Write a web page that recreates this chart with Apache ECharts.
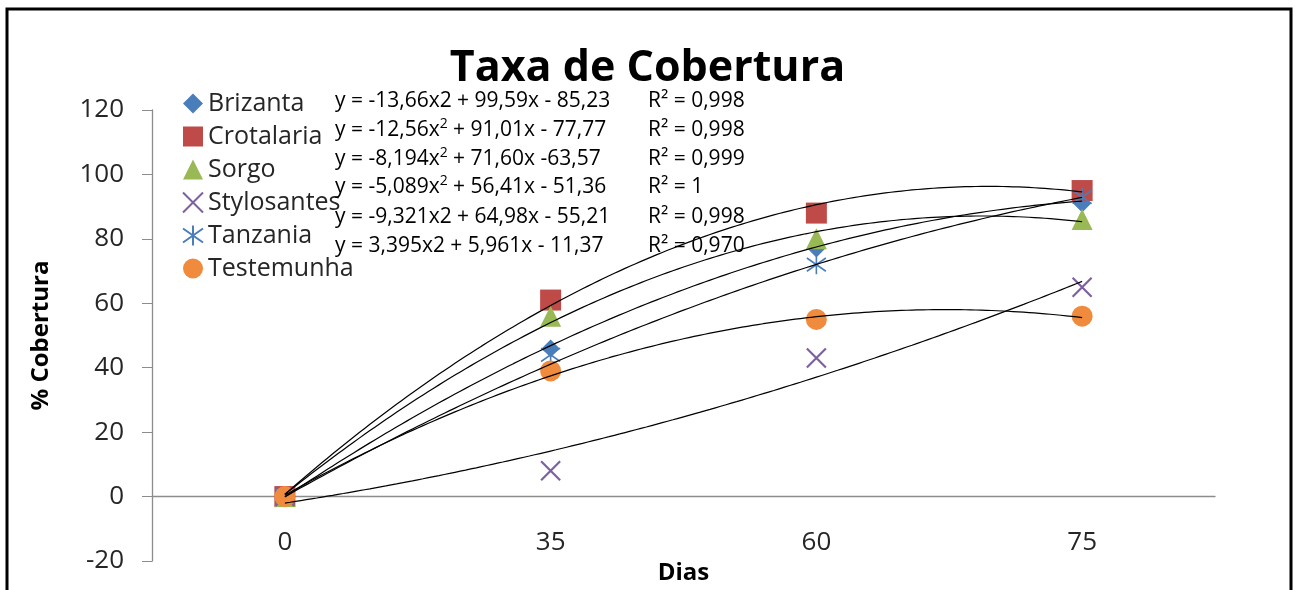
<!DOCTYPE html>
<html>
<head>
<meta charset="utf-8">
<script src="https://cdn.jsdelivr.net/npm/echarts@6/dist/echarts.min.js"></script>
<style>
  html, body { margin: 0; padding: 0; background: #fff; }
  #chart { width: 1295px; height: 590px; }
</style>
</head>
<body>
<div id="chart"></div>
<script>
  // dados
  var dias = ['0', '35', '60', '75'];
  var nomes = ['Brizanta', 'Crotalaria', 'Sorgo', 'Stylosantes', 'Tanzania', 'Testemunha'];

  var brizanta    = [0, 46, 77, 91];
  var crotalaria  = [0, 61, 88, 95];
  var sorgo       = [0, 56, 80, 86];
  var stylosantes = [0, 8, 43, 65];
  var tanzania    = [0, 44, 72, 93];
  var testemunha  = [0, 39, 55, 56];

  // coeficientes das linhas de tendencia (polinomial 2a ordem, x = 1..4)
  var trendA = [-8.194, -13.66, -12.56, 3.395, -5.089, -9.321];
  var trendB = [71.60, 99.59, 91.01, 5.961, 56.41, 64.98];
  var trendC = [-63.57, -85.23, -77.77, -11.37, -51.36, -55.21];

  // textos das equacoes como aparecem no grafico
  var equacoes = [
    'y = -13,66x2 + 99,59x - 85,23',
    'y = -12,56x{sup|2} + 91,01x - 77,77',
    'y = -8,194x{sup|2} + 71,60x -63,57',
    'y = -5,089x{sup|2} + 56,41x - 51,36',
    'y = -9,321x2 + 64,98x - 55,21',
    'y = 3,395x2 + 5,961x - 11,37'
  ];
  var r2 = ['R² = 0,998', 'R² = 0,998', 'R² = 0,999', 'R² = 1', 'R² = 0,998', 'R² = 0,970'];

  var valores = [brizanta, crotalaria, sorgo, stylosantes, tanzania, testemunha];
  var cores = ['#4a7ebb', '#be4b48', '#98b954', '#7d60a0', '#4a7ebb', '#f08a3c'];
  var simbolos = [
    'diamond',
    'rect',
    'triangle',
    'path://M0,0L10,10M10,0L0,10',
    'path://M5,0L5,10M0,1.5L10,8.5M10,1.5L0,8.5',
    'circle'
  ];
  var tamanhos = [18, 21, 21, 19, 19, 21];

  var fonte = '"Open Sans", "DejaVu Sans", sans-serif';

  var chart = echarts.init(document.getElementById('chart'));

  var series = [];
  nomes.forEach(function (n, i) {
    var linha = i === 3 || i === 4;
    series.push({
      name: n,
      type: 'scatter',
      xAxisIndex: 0,
      data: valores[i],
      symbol: simbolos[i],
      symbolSize: tamanhos[i],
      itemStyle: linha
        ? { color: 'rgba(0,0,0,0)', borderColor: cores[i], borderWidth: i === 3 ? 2.2 : 1.6, opacity: 1 }
        : { color: cores[i], opacity: 1 },
      z: 2
    });
  });
  // linhas de tendencia
  nomes.forEach(function (n, i) {
    var pts = [];
    for (var x = 1; x <= 4.0001; x += 0.02) {
      pts.push([x, trendA[i] * x * x + trendB[i] * x + trendC[i]]);
    }
    series.push({
      name: 'tend_' + n,
      type: 'line',
      xAxisIndex: 1,
      data: pts,
      showSymbol: false,
      symbol: 'none',
      lineStyle: { color: '#000', width: 1.2 },
      silent: true,
      z: 5
    });
  });

  var graficos = [{
    type: 'rect',
    shape: { x: 7, y: 9, width: 1284, height: 620 },
    style: { fill: 'none', stroke: '#000', lineWidth: 3 },
    silent: true
  }];
  var ys = [101, 130, 159, 187, 217, 246];
  equacoes.forEach(function (t, i) {
    graficos.push({
      type: 'text',
      x: 335, y: ys[i],
      style: {
        text: t,
        font: '21px ' + fonte,
        fill: '#000',
        verticalAlign: 'middle',
        rich: { sup: { fontSize: 14, verticalAlign: 'top', padding: [0, 0, 12, 0], fontFamily: fonte } }
      },
      z: 10
    });
    graficos.push({
      type: 'text',
      x: 648, y: ys[i],
      style: { text: r2[i], font: '21px ' + fonte, fill: '#000', verticalAlign: 'middle' },
      z: 10
    });
  });

  chart.setOption({
    animation: false,
    backgroundColor: '#fff',
    title: {
      text: 'Taxa de Cobertura',
      left: 'center',
      top: 42,
      textStyle: { fontFamily: fonte, fontSize: 43, fontWeight: 'bold', color: '#000' }
    },
    legend: {
      data: nomes,
      orient: 'vertical',
      left: 177,
      top: 86,
      itemWidth: 20,
      itemHeight: 20,
      itemGap: 8,
      textStyle: { fontFamily: fonte, fontSize: 25, color: '#262626' }
    },
    grid: { left: 152, right: 80, top: 110, bottom: 29, containLabel: false, outerBoundsMode: 'none' },
    xAxis: [{
      type: 'category',
      data: dias,
      boundaryGap: true,
      axisLine: { onZero: true, lineStyle: { color: '#8c8c8c', width: 1.3 } },
      axisTick: { show: false },
      axisLabel: { margin: -31, fontFamily: fonte, fontSize: 26, color: '#262626' },
      name: 'Dias',
      nameLocation: 'middle',
      nameGap: 0,
      nameTextStyle: { fontFamily: fonte, fontSize: 24, fontWeight: 'bold', color: '#000' }
    }, {
      type: 'value',
      min: 0.5,
      max: 4.5,
      show: false
    }],
    yAxis: {
      type: 'value',
      min: -20,
      max: 120,
      interval: 20,
      splitLine: { show: false },
      axisLine: { show: true, lineStyle: { color: '#8c8c8c', width: 1.3 } },
      axisTick: { show: true, length: 10, lineStyle: { color: '#8c8c8c' } },
      axisLabel: { margin: 28, fontFamily: fonte, fontSize: 26, color: '#262626' },
      name: '% Cobertura',
      nameLocation: 'middle',
      nameGap: 99,
      nameRotate: 90,
      nameTextStyle: { fontFamily: fonte, fontSize: 24, fontWeight: 'bold', color: '#000' }
    },
    graphic: graficos,
    series: series
  });
</script>
</body>
</html>
